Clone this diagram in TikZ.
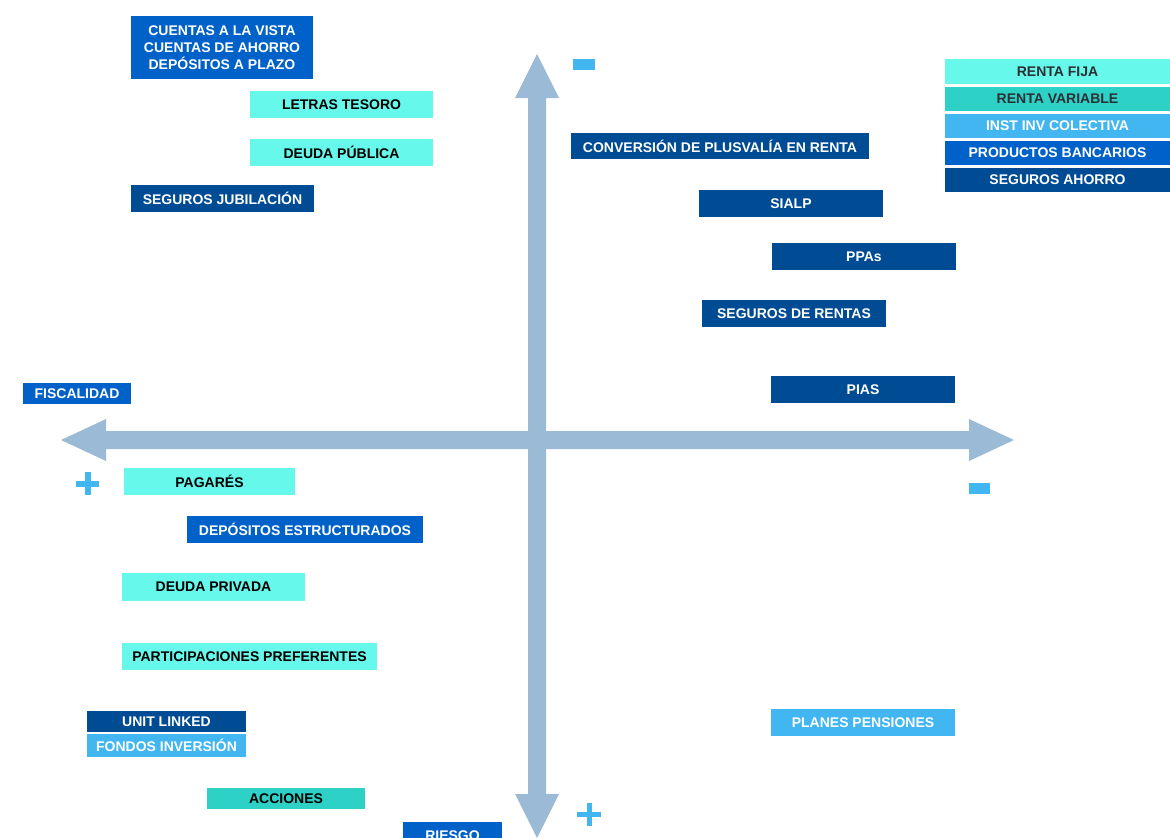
\documentclass[tikz,border=0pt]{standalone}
\usepackage{fontspec}
\setmainfont{Liberation Sans}
\definecolor{cyanb}{HTML}{66F8EB}
\definecolor{tealb}{HTML}{2ED1C6}
\definecolor{lblue}{HTML}{42B6F1}
\definecolor{mblue}{HTML}{0062C9}
\definecolor{dblue}{HTML}{004C94}
\definecolor{arrowc}{HTML}{9BBAD6}
\definecolor{legtxt}{HTML}{2B3035}
\tikzset{
  lbl/.style={inner sep=0pt, outer sep=0pt, align=center,
    font=\fontsize{14}{17}\selectfont\bfseries, minimum height=27pt},
  cyanbox/.style={lbl, fill=cyanb, text=black},
  tealbox/.style={lbl, fill=tealb, text=black},
  lbox/.style={lbl, fill=lblue, text=white},
  mbox/.style={lbl, fill=mblue, text=white},
  dbox/.style={lbl, fill=dblue, text=white},
  axis/.style={fill=arrowc, draw=none},
  sign/.style={fill=lblue, draw=none}
}
\begin{document}
\begin{tikzpicture}[x=1pt,y=-1pt]
\useasboundingbox (0,0) rectangle (1170,838);
\begin{scope}
\clip (0,0) rectangle (1170,838);
% axes
\fill[axis] (528,98) -- (515,98) -- (537,54) -- (559,98) -- (546,98)
  -- (546,794) -- (559,794) -- (537,838) -- (515,794) -- (528,794) -- cycle;
\fill[axis] (106,431) -- (106,419) -- (61,440) -- (106,461) -- (106,449)
  -- (969,449) -- (969,461) -- (1014,440) -- (969,419) -- (969,431) -- cycle;
% signs
\fill[sign] (573,59) rectangle (595,70);
\fill[sign] (969,483) rectangle (990,494);
\fill[sign] (76,481) rectangle (99,486.5);
\fill[sign] (85,472) rectangle (90.5,495);
\fill[sign] (577,811.5) rectangle (601,817);
\fill[sign] (586.5,803) rectangle (592,826);
% quadrant labels
\node[mbox, minimum width=182pt, minimum height=63pt] (cuentas) at (222,47.5)
  {CUENTAS A LA VISTA\\CUENTAS DE AHORRO\\DEPÓSITOS A PLAZO};
\node[cyanbox, minimum width=183pt] (letras) at (341.5,104.5) {LETRAS TESORO};
\node[cyanbox, minimum width=183pt] (deudapub) at (341.5,152.5) {DEUDA PÚBLICA};
\node[dbox, minimum width=183pt] (segjub) at (222.5,198.5) {SEGUROS JUBILACIÓN};
\node[dbox, minimum width=298pt, minimum height=26pt] (conv) at (720,146) {CONVERSIÓN DE PLUSVALÍA EN RENTA};
\node[dbox, minimum width=184pt] (sialp) at (791,203.5) {SIALP};
\node[dbox, minimum width=184pt] (ppas) at (864,256.5) {PPAs};
\node[dbox, minimum width=184pt] (segrentas) at (794,313.5) {SEGUROS DE RENTAS};
\node[dbox, minimum width=184pt] (pias) at (863,389.5) {PIAS};
\node[mbox, minimum width=108pt, minimum height=21pt] (fiscal) at (77,393.5) {FISCALIDAD};
\node[cyanbox, minimum width=171pt] (pagares) at (209.5,481.5) {PAGARÉS};
\node[mbox, minimum width=236pt] (depest) at (305,529.5) {DEPÓSITOS ESTRUCTURADOS};
\node[cyanbox, minimum width=183pt, minimum height=28pt] (deudapriv) at (213.5,587) {DEUDA PRIVADA};
\node[cyanbox, minimum width=255pt] (partic) at (249.5,656.5) {PARTICIPACIONES PREFERENTES};
\node[dbox, minimum width=159pt, minimum height=21pt] (unit) at (166.5,721.5) {UNIT LINKED};
\node[lbox, minimum width=159pt, minimum height=23pt] (fondos) at (166.5,745.5) {FONDOS INVERSIÓN};
\node[tealbox, minimum width=158pt, minimum height=21pt] (acciones) at (286,798.5) {ACCIONES};
\node[mbox, minimum width=99pt, minimum height=28pt] (riesgo) at (452.5,836) {RIESGO};
\node[lbox, minimum width=184pt] (planes) at (863,722.5) {PLANES PENSIONES};
% legend
\node[cyanbox, text=legtxt, minimum width=225pt, minimum height=25pt] (lfija) at (1057.5,71.5) {RENTA FIJA};
\node[tealbox, text=legtxt, minimum width=225pt, minimum height=24pt] (lvar) at (1057.5,99) {RENTA VARIABLE};
\node[lbox, minimum width=225pt, minimum height=24pt] (linst) at (1057.5,126) {INST INV COLECTIVA};
\node[mbox, minimum width=225pt, minimum height=24pt] (lprod) at (1057.5,153) {PRODUCTOS BANCARIOS};
\node[dbox, minimum width=225pt, minimum height=24pt] (lseg) at (1057.5,180) {SEGUROS AHORRO};
\end{scope}
\end{tikzpicture}
\end{document}
